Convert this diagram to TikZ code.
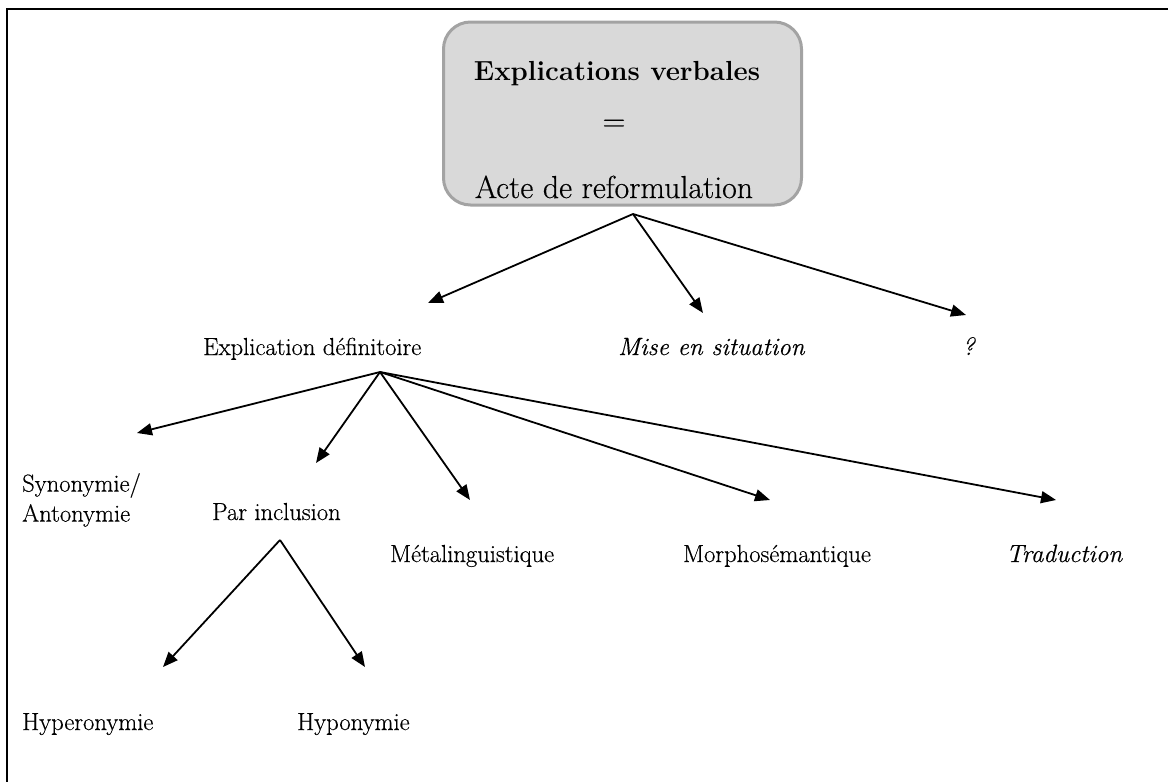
\documentclass[tikz,border=0pt]{standalone}
\usepackage{fontspec}
\setmainfont{Latin Modern Roman}[
  UprightFeatures={FakeBold=0.4},
  ItalicFeatures={FakeBold=0.4}]
\usetikzlibrary{arrows.meta}
\definecolor{boxfill}{HTML}{D9D9D9}
\definecolor{boxline}{HTML}{A3A3A3}
\begin{document}
\begin{tikzpicture}[x=1pt,y=-1pt,
  label/.style={anchor=base west,inner sep=0pt,font=\fontsize{24.6}{30}\selectfont},
  itlabel/.style={label,font=\fontsize{25}{30}\selectfont\itshape},
  boxtext/.style={anchor=base,inner sep=0pt,font=\fontsize{31.8}{36}\selectfont},
  branch/.style={line width=1.8pt,-{Triangle[length=15pt,width=12pt]}},
  frame/.style={line width=2.5pt}]
\useasboundingbox (0,0) rectangle (1168,782);

% outer frame (left and top edges)
\draw[frame] (7,782) -- (7,9) -- (1168,9);

% top box
\node[draw=boxline,line width=3pt,fill=boxfill,rounded corners=27pt,
      minimum width=358pt,minimum height=183pt] (box) at (622.5,113.5) {};
\node[boxtext,font=\fontsize{27.6}{34}\selectfont\bfseries] (title) at (617,80) {Explications verbales};
\node[boxtext] (eq) at (614,131) {=};
\node[boxtext] (sub) at (614,198) {Acte de reformulation};

% first level
\node[label] (edef) at (203,355) {Explication définitoire};
\node[itlabel] (mise) at (618,355) {Mise en situation};
\node[itlabel] (q) at (962,355) {?};

% second level
\node[label,anchor=north west,align=left] (syn) at (22,473) {Synonymie/\\Antonymie};
\node[label] (par) at (212,520) {Par inclusion};
\node[label] (meta) at (390,562) {Métalinguistique};
\node[label] (morph) at (683,562) {Morphosémantique};
\node[itlabel] (trad) at (1006,562) {Traduction};

% third level
\node[label] (hyper) at (22,730) {Hyperonymie};
\node[label] (hypo) at (297,730) {Hyponymie};

% branching points and arrow ends
\coordinate (o1) at (633,214);
\coordinate (o2) at (380,372);
\coordinate (o3) at (280,540);
\coordinate (t-edef) at (428,303);
\coordinate (t-mise) at (703,313);
\coordinate (t-q) at (966,315);
\coordinate (t-syn) at (137,433);
\coordinate (t-par) at (316,463);
\coordinate (t-meta) at (470,500);
\coordinate (t-morph) at (770,500);
\coordinate (t-trad) at (1056,500);
\coordinate (t-hyper) at (163,667);
\coordinate (t-hypo) at (365,667);

\draw[branch] (o1) -- (t-edef);
\draw[branch] (o1) -- (t-mise);
\draw[branch] (o1) -- (t-q);
\draw[branch] (o2) -- (t-syn);
\draw[branch] (o2) -- (t-par);
\draw[branch] (o2) -- (t-meta);
\draw[branch] (o2) -- (t-morph);
\draw[branch] (o2) -- (t-trad);
\draw[branch] (o3) -- (t-hyper);
\draw[branch] (o3) -- (t-hypo);
\end{tikzpicture}
\end{document}
